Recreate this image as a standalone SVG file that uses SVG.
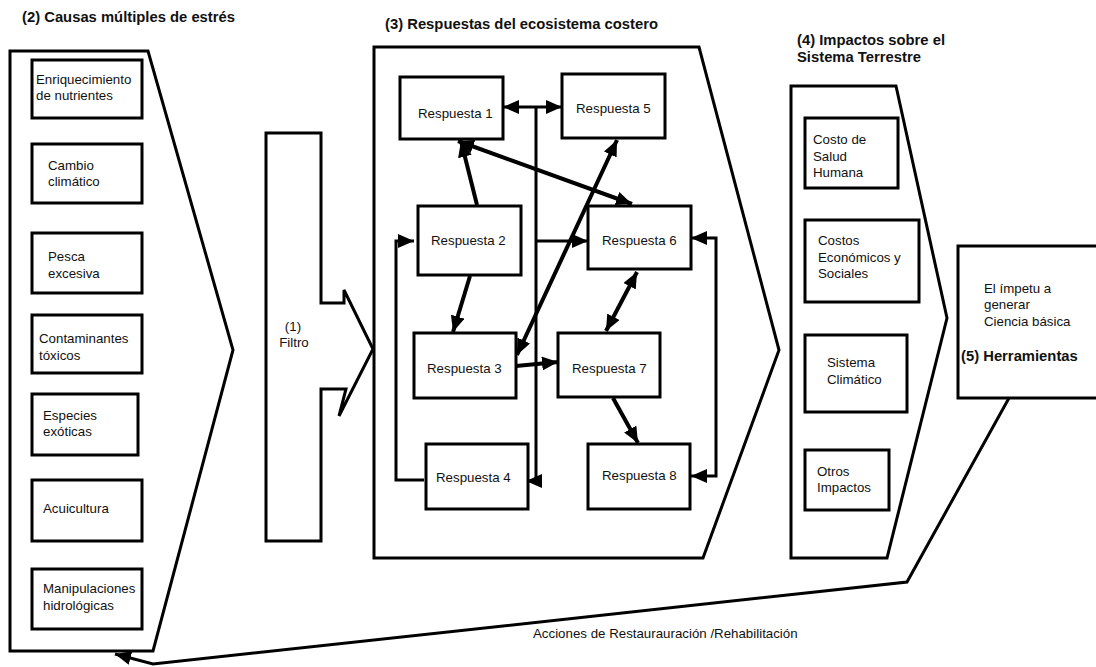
<svg xmlns="http://www.w3.org/2000/svg" width="1096" height="667" viewBox="0 0 1096 667">
<defs>
<style>
.t{font-family:"Liberation Sans",Arial,sans-serif;font-size:13.3px;fill:#111}
.b{font-family:"Liberation Sans",Arial,sans-serif;font-size:14.8px;font-weight:bold;fill:#111}
.box{fill:#fff;stroke:#000;stroke-width:3}
.pan{fill:#fff;stroke:#000;stroke-width:3;stroke-linejoin:miter}
.c{fill:none;stroke:#000;stroke-width:3}
.ct{fill:none;stroke:#000;stroke-width:4}
</style>
<marker id="ah" viewBox="0 0 16 14" refX="16" refY="7" markerWidth="16" markerHeight="14" markerUnits="userSpaceOnUse" orient="auto-start-reverse">
<path d="M0,0 L16,7 L0,14 z" fill="#000"/>
</marker>
</defs>
<rect width="1096" height="667" fill="#fff"/>

<g id="panel2">
<polygon class="pan" points="10,51 148,51 233,350 153,651 10,651"/>
<text class="b" x="22" y="22">(2) Causas múltiples de estrés</text>
</g>
<g id="c1"><rect class="box" x="32" y="60" width="110" height="58"/><text class="t" x="36" y="84">Enriquecimiento</text><text class="t" x="36" y="100">de nutrientes</text></g>
<g id="c2"><rect class="box" x="32" y="144" width="110" height="59"/><text class="t" x="48" y="170">Cambio</text><text class="t" x="48" y="186">climático</text></g>
<g id="c3"><rect class="box" x="32" y="233" width="110" height="60"/><text class="t" x="48" y="261">Pesca</text><text class="t" x="48" y="278">excesiva</text></g>
<g id="c4"><rect class="box" x="32" y="315" width="110" height="58"/><text class="t" x="39" y="343">Contaminantes</text><text class="t" x="39" y="360">tóxicos</text></g>
<g id="c5"><rect class="box" x="32" y="394" width="106" height="61"/><text class="t" x="43" y="420">Especies</text><text class="t" x="43" y="436">exóticas</text></g>
<g id="c6"><rect class="box" x="32" y="480" width="110" height="61"/><text class="t" x="43" y="513">Acuicultura</text></g>
<g id="c7"><rect class="box" x="32" y="569" width="110" height="60"/><text class="t" x="43" y="593">Manipulaciones</text><text class="t" x="43" y="610">hidrológicas</text></g>

<g id="filtro">
<polygon class="pan" points="266,133 321,133 321,303 344,303 344,290 373,349 339,416 346,389 321,389 321,541 266,541"/>
<text class="t" x="293" y="331" text-anchor="middle">(1)</text>
<text class="t" x="294" y="347" text-anchor="middle">Filtro</text>
</g>

<g id="panel3">
<polygon class="pan" points="374,47 699,47 779,350 703,558 374,558"/>
<text class="b" x="385" y="29">(3) Respuestas del ecosistema costero</text>
</g>

<g id="connectors">
<path class="c" d="M503,107 L562,107" marker-start="url(#ah)" marker-end="url(#ah)"/>
<path class="c" d="M536,107 V481 L526,481" marker-end="url(#ah)"/>
<path class="c" d="M536,241 L588,241" marker-end="url(#ah)"/>
<path class="ct" d="M477,205 L461,141" marker-end="url(#ah)"/>
<path class="ct" d="M458,141 L632,204" marker-start="url(#ah)" marker-end="url(#ah)"/>
<path class="ct" d="M470,276 L453,332" marker-end="url(#ah)"/>
<path class="ct" d="M517,355 L617,140" marker-start="url(#ah)" marker-end="url(#ah)"/>
<path class="ct" d="M516,366 L558,362" marker-end="url(#ah)"/>
<path class="ct" d="M637,272 L606,331" marker-start="url(#ah)" marker-end="url(#ah)"/>
<path class="ct" d="M613,398 L638,443" marker-end="url(#ah)"/>
<path class="c" d="M424,480 H396 V241 H414" marker-end="url(#ah)"/>
<path class="c" d="M691,238 H716 V476 H691" marker-start="url(#ah)" marker-end="url(#ah)"/>
<path class="c" d="M1009,398 L907,582 L153,664 L115,654" stroke-width="3.5" marker-end="url(#ah)"/>
<text class="t" x="533" y="638">Acciones de Restaurauración /Rehabilitación</text>
</g>

<g id="r1"><rect class="box" x="400" y="77" width="103" height="62"/><text class="t" x="418" y="118">Respuesta 1</text></g>
<g id="r5"><rect class="box" x="562" y="74" width="103" height="64"/><text class="t" x="576" y="113">Respuesta 5</text></g>
<g id="r2"><rect class="box" x="418" y="206" width="103" height="69"/><text class="t" x="431" y="245">Respuesta 2</text></g>
<g id="r6"><rect class="box" x="588" y="206" width="103" height="63"/><text class="t" x="602" y="245">Respuesta 6</text></g>
<g id="r3"><rect class="box" x="414" y="333" width="102" height="65"/><text class="t" x="427" y="373">Respuesta 3</text></g>
<g id="r7"><rect class="box" x="558" y="333" width="102" height="64"/><text class="t" x="572" y="373">Respuesta 7</text></g>
<g id="r4"><rect class="box" x="426" y="444" width="102" height="65"/><text class="t" x="436" y="482">Respuesta 4</text></g>
<g id="r8"><rect class="box" x="588" y="444" width="102" height="65"/><text class="t" x="602" y="480">Respuesta 8</text></g>

<g id="panel4">
<polygon class="pan" points="791,86 896,86 947,318 887,558 791,558"/>
<text class="b" x="797" y="45">(4) Impactos sobre el</text>
<text class="b" x="797" y="62">Sistema Terrestre</text>
</g>
<g id="i1"><rect class="box" x="805" y="118" width="93" height="70"/><text class="t" x="813" y="144">Costo de</text><text class="t" x="813" y="161">Salud</text><text class="t" x="813" y="177">Humana</text></g>
<g id="i2"><rect class="box" x="805" y="220" width="114" height="82"/><text class="t" x="818" y="245">Costos</text><text class="t" x="818" y="262">Económicos y</text><text class="t" x="818" y="278">Sociales</text></g>
<g id="i3"><rect class="box" x="805" y="335" width="102" height="77"/><text class="t" x="827" y="367">Sistema</text><text class="t" x="827" y="384">Climático</text></g>
<g id="i4"><rect class="box" x="805" y="450" width="84" height="60"/><text class="t" x="817" y="476">Otros</text><text class="t" x="817" y="492">Impactos</text></g>

<g id="panel5">
<rect class="box" x="958" y="246" width="150" height="152"/>
<text class="t" x="984" y="293">El ímpetu a</text>
<text class="t" x="984" y="309">generar</text>
<text class="t" x="984" y="326">Ciencia básica</text>
<text class="b" x="961" y="361">(5) Herramientas</text>
</g>
</svg>
